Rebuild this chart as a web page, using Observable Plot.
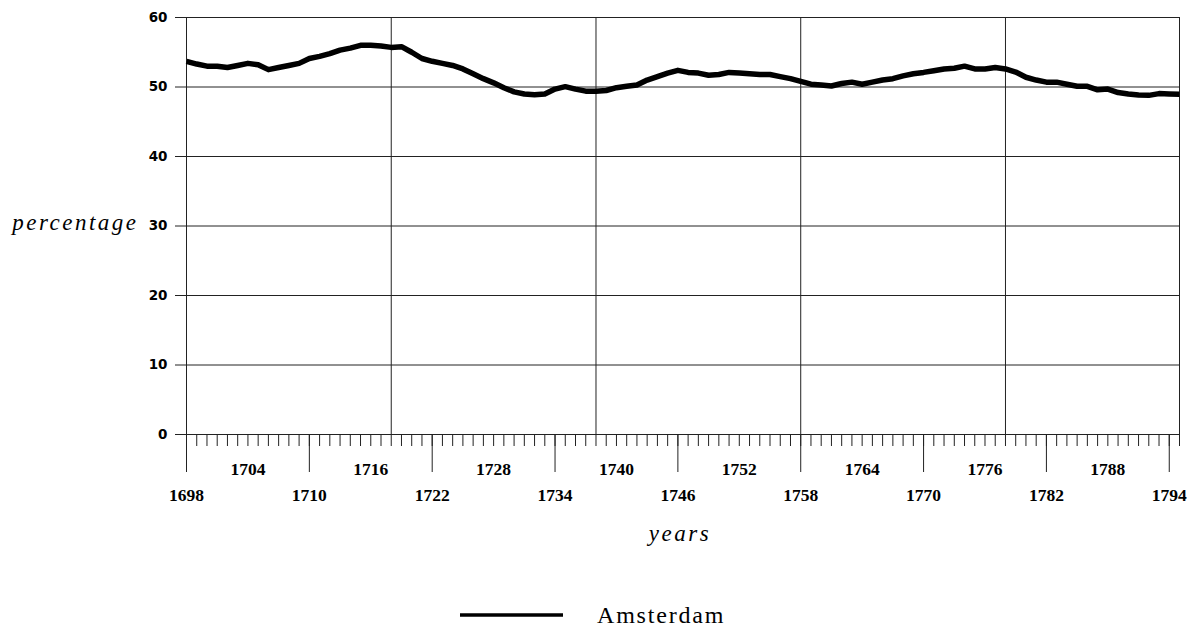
<!DOCTYPE html>
<html>
<head>
<meta charset="utf-8">
<script src="https://cdn.jsdelivr.net/npm/d3@7"></script>
<script src="https://cdn.jsdelivr.net/npm/@observablehq/plot@0.6"></script>
<style>
  html, body { margin: 0; padding: 0; background: #fff; }
  #wrap { width: 1195px; height: 632px; position: relative; overflow: hidden; }
  #legend { position: relative; width: 1195px; height: 72px; }
  #legend svg { position: absolute; left: 460px; top: 51px; }
  #legend span { position: absolute; left: 597px; top: 43px; font-family: "Liberation Serif", serif; font-size: 24px; letter-spacing: 1.8px; color: #000; line-height: 1; }
</style>
</head>
<body>
<div id="wrap"></div>
<script>
const years = [1698,1699,1700,1701,1702,1703,1704,1705,1706,1707,1708,1709,1710,1711,1712,1713,1714,1715,1716,1717,1718,1719,1720,1721,1722,1723,1724,1725,1726,1727,1728,1729,1730,1731,1732,1733,1734,1735,1736,1737,1738,1739,1740,1741,1742,1743,1744,1745,1746,1747,1748,1749,1750,1751,1752,1753,1754,1755,1756,1757,1758,1759,1760,1761,1762,1763,1764,1765,1766,1767,1768,1769,1770,1771,1772,1773,1774,1775,1776,1777,1778,1779,1780,1781,1782,1783,1784,1785,1786,1787,1788,1789,1790,1791,1792,1793,1794,1795];
const amsterdam = [53.7,53.3,53.0,53.0,52.8,53.1,53.4,53.2,52.5,52.8,53.1,53.4,54.1,54.4,54.8,55.3,55.6,56.0,56.0,55.9,55.7,55.8,55.0,54.1,53.7,53.4,53.1,52.6,51.9,51.2,50.6,49.9,49.3,49.0,48.9,49.0,49.7,50.05,49.7,49.4,49.4,49.5,49.9,50.1,50.3,51.0,51.5,52.0,52.4,52.1,52.0,51.7,51.8,52.1,52.0,51.9,51.8,51.8,51.5,51.2,50.8,50.4,50.3,50.15,50.5,50.7,50.4,50.7,51.0,51.2,51.6,51.9,52.1,52.35,52.6,52.7,53.0,52.6,52.6,52.8,52.6,52.15,51.4,51.0,50.7,50.7,50.4,50.1,50.1,49.6,49.7,49.2,49.0,48.85,48.8,49.05,49.0,48.95];
const yTicks = [0,10,20,30,40,50,60];
const verticalGrid = [1718,1738,1758,1778];
const frameYears = [1698,1795];
const longTickYears = [1698,1710,1722,1734,1746,1758,1770,1782,1794];
const upperLabelYears = [1704,1716,1728,1740,1752,1764,1776,1788];
const lowerLabelYears = [1698,1710,1722,1734,1746,1758,1770,1782,1794];
const seriesName = "Amsterdam";
const yTitle = "percentage";
const xTitle = "years";

const data = years.map((y, i) => ({year: y, value: amsterdam[i]}));
const serifBold = {fontFamily: "Liberation Serif, serif", fontWeight: "bold", fontSize: 17.5};

const chart = Plot.plot({
  width: 1195,
  height: 560,
  marginLeft: 186,
  marginRight: 16,
  marginTop: 17,
  marginBottom: 126,
  x: {domain: [1698, 1795]},
  y: {domain: [0, 60]},
  style: {background: "#fff", color: "#000"},
  marks: [
    Plot.ruleY(yTicks, {stroke: "#222", strokeWidth: 1}),
    Plot.ruleX(verticalGrid, {y1: 0, y2: 60, stroke: "#222", strokeWidth: 1}),
    Plot.ruleX(frameYears, {y1: 0, y2: 60, stroke: "#222", strokeWidth: 1}),
    Plot.axisY({ticks: yTicks, tickSize: 11, tickPadding: 8, label: null, stroke: "#222",
      fontFamily: "DejaVu Sans, sans-serif", fontWeight: "bold", fontSize: 13.5}),
    Plot.axisX({ticks: years, tickSize: 12, text: null, label: null, stroke: "#222"}),
    Plot.axisX({ticks: longTickYears, tickSize: 38, text: null, label: null, stroke: "#222"}),
    Plot.axisX({ticks: upperLabelYears, tickSize: 0, tickPadding: 28, label: null, tickFormat: d => String(d), ...serifBold}),
    Plot.axisX({ticks: lowerLabelYears, tickSize: 0, tickPadding: 54, label: null, tickFormat: d => String(d), ...serifBold}),
    Plot.line(data, {x: "year", y: "value", stroke: "#000", strokeWidth: 5.5, strokeLinejoin: "round", strokeLinecap: "butt"}),
    Plot.text([yTitle], {frameAnchor: "left", dx: -48, dy: -3, textAnchor: "end", lineAnchor: "middle",
      fontFamily: "Liberation Serif, serif", fontStyle: "italic", fontSize: 23, fill: "#000"}),
    Plot.text([xTitle], {frameAnchor: "bottom", dy: 106, dx: -3, lineAnchor: "bottom",
      fontFamily: "Liberation Serif, serif", fontStyle: "italic", fontSize: 23, fill: "#000"})
  ]
});
chart.querySelectorAll("text").forEach(t => {
  if (t.textContent === yTitle || t.textContent === xTitle) t.style.letterSpacing = "2.5px";
});
const wrap = document.getElementById("wrap");
wrap.appendChild(chart);

const legend = document.createElement("div");
legend.id = "legend";
legend.innerHTML = `<svg width="103" height="8"><line x1="0" x2="103" y1="4" y2="4" stroke="#000" stroke-width="3.3"/></svg><span>${seriesName}</span>`;
wrap.appendChild(legend);
</script>
</body>
</html>
